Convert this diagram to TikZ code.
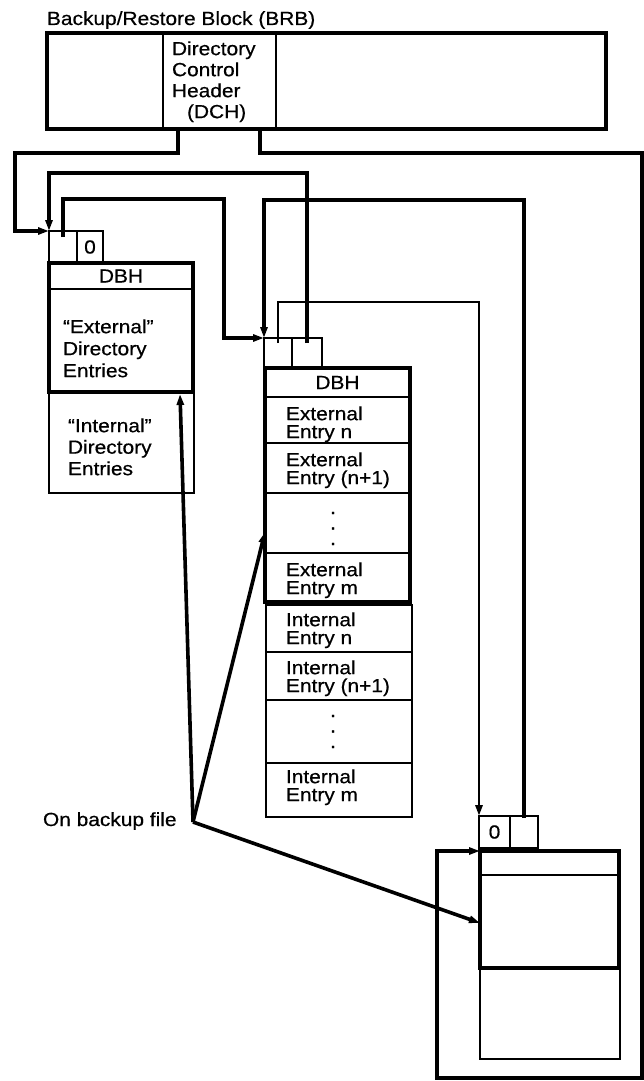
\documentclass[tikz,border=0pt]{standalone}
\usepackage{fontspec}
\setmainfont{Liberation Sans}[FakeStretch=1.1,FakeBold=0.5]
\usetikzlibrary{arrows.meta,calc}
\begin{document}
\begin{tikzpicture}[x=1pt,y=-1pt,
  every node/.style={inner sep=0pt, outer sep=0pt},
  dfont/.style={font=\fontsize{19}{21.5}\selectfont},
  sect/.style={draw, line width=2pt, anchor=north west, dfont},
  thinsect/.style={draw, line width=1.9pt, anchor=north west, dfont},
  thickframe/.style={draw, line width=4pt, anchor=north west},
  cellbox/.style={draw, line width=1.8pt, anchor=north west, dfont},
  lbl/.style={anchor=north west, align=left},
  ptr/.style={line width=3.6pt},
  arrowtip/.style={-{Triangle[length=11pt,width=7pt]}},
]
\fill[white] (0,0) rectangle (644,1081);
\useasboundingbox (0,0) rectangle (644,1081);

% Backup/Restore Block
\node[anchor=base west, dfont] (title) at (47,25) {Backup/Restore Block (BRB)};
\node[thickframe, line width=3.4pt, minimum width=559, minimum height=96] (brb) at (47,33) {};
\node[sect, minimum width=113, minimum height=96] (dch) at (163,33) {};
\node[lbl, font=\fontsize{19}{21}\selectfont] (dchtext) at (172,41.4) {Directory\\Control\\Header\\\hspace*{15pt}(DCH)};

% Left block
\node[cellbox, minimum width=28, minimum height=32] (lc1) at (49,231) {};
\node[cellbox, minimum width=26, minimum height=32] (lc2) at (77,231) {0};
\node[sect, minimum width=144, minimum height=26] (ldbh) at (49,263) {DBH};
\node[sect, minimum width=144, minimum height=103] (lext) at (49,289) {};
\node[thickframe, minimum width=144, minimum height=129] (lfr) at (49,263) {};
\node[thinsect, minimum width=145, minimum height=101] (lint) at (49,392) {};
\node[lbl, font=\fontsize{19}{22}\selectfont] (lexttext) at (63,319.4) {“External”\\Directory\\Entries};
\node[lbl, font=\fontsize{19}{21.5}\selectfont] (linttext) at (68,418.4) {“Internal”\\Directory\\Entries};

% Middle block
\node[cellbox, minimum width=28, minimum height=30] (mc1) at (264,338) {};
\node[cellbox, minimum width=30, minimum height=30] (mc2) at (292,338) {};
\node[sect, minimum width=145, minimum height=29] (mdbh) at (265,368) {DBH};
\node[sect, minimum width=145, minimum height=46] (mextn) at (265,397) {};
\node[sect, minimum width=145, minimum height=50] (mextn1) at (265,443) {};
\node[sect, minimum width=145, minimum height=60] (mextd) at (265,493) {};
\node[sect, minimum width=145, minimum height=49] (mextm) at (265,553) {};
\node[thickframe, minimum width=145, minimum height=234] (mfr) at (265,368) {};
\node[thinsect, minimum width=146, minimum height=47] (mintn) at (266,605) {};
\node[thinsect, minimum width=146, minimum height=48] (mintn1) at (266,652) {};
\node[thinsect, minimum width=146, minimum height=63] (mintd) at (266,700) {};
\node[thinsect, minimum width=146, minimum height=54] (mintm) at (266,763) {};
\node[lbl, font=\fontsize{19}{18}\selectfont] (t1) at (286,406.4) {External\\Entry n};
\node[lbl, font=\fontsize{19}{18}\selectfont] (t2) at (286,452.4) {External\\Entry (n+1)};
\node[lbl, font=\fontsize{19}{18}\selectfont] (t3) at (286,562.4) {External\\Entry m};
\node[lbl, font=\fontsize{19}{18}\selectfont] (t4) at (286,612.4) {Internal\\Entry n};
\node[lbl, font=\fontsize{19}{18}\selectfont] (t5) at (286,660.4) {Internal\\Entry (n+1)};
\node[lbl, font=\fontsize{19}{18}\selectfont] (t6) at (286,769.4) {Internal\\Entry m};
\node[align=center, font=\fontsize{19}{15.5}\selectfont] (d1) at (333,528.5) {.\\.\\.};
\node[align=center, font=\fontsize{19}{15.5}\selectfont] (d2) at (333,731.5) {.\\.\\.};

% Lower right block
\node[cellbox, minimum width=31, minimum height=32] (rc1) at (479,816) {0};
\node[cellbox, minimum width=28, minimum height=32] (rc2) at (510,816) {};
\node[sect, minimum width=139, minimum height=24] (rdbh) at (480,851) {};
\node[sect, minimum width=139, minimum height=93] (rext) at (480,875) {};
\node[thickframe, minimum width=139, minimum height=117] (rfr) at (480,851) {};
\node[thinsect, minimum width=140, minimum height=91] (rint) at (480,968) {};

% Pointers
\draw[ptr, arrowtip] ([xshift=15pt]dch.south west) -- ++(0,24) -| (15,231) -- (lc1.north west);
\draw[ptr, arrowtip] ([yshift=-5pt]mc2.north) |- (lc1.north west |- 0,173) -- (lc1.north west);
\draw[ptr, arrowtip] ([yshift=-6pt]lc1.north) |- (224,199) |- (mc1.north west);
\draw[ptr, arrowtip] ([yshift=-2pt]rc2.north) |- (mc1.north west |- 0,200) -- (mc1.north west);
\draw[line width=2.8pt, arrowtip] ([yshift=-5pt]mc1.north) |- (rc1.north west |- 0,302) -- (rc1.north west);
\draw[line width=3.2pt, arrowtip] ([xshift=-16pt]dch.south east) -- ++(0,24) -| (642,1078) -| (437,851) -- (rfr.north west);

% On backup file
\node[anchor=base west, dfont] (obf) at (43,826) {On backup file};
\coordinate (V) at (193,822);
\draw[ptr, arrowtip] (V) -- ($(lint.north west)+(131,2)$);
\draw[ptr, arrowtip] (V) -- ($(mfr.north west)+(0,164)$);
\draw[ptr, arrowtip] (V) -- ($(rfr.north west)+(0,72)$);
\end{tikzpicture}
\end{document}
